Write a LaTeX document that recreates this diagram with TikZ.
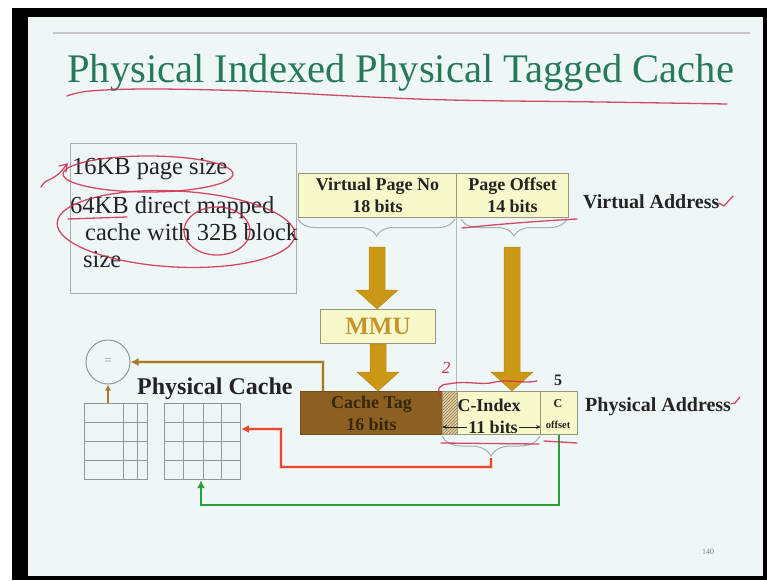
\documentclass[tikz,border=0pt]{standalone}
\usepackage{fontspec}
\setmainfont{Liberation Serif}
\usetikzlibrary{decorations.pathreplacing,patterns,calc,arrows.meta}

\definecolor{slidebg}{RGB}{238,246,248}
\definecolor{titlegreen}{RGB}{38,122,88}
\definecolor{boxfill}{RGB}{247,249,202}
\definecolor{boxline}{RGB}{150,152,120}
\definecolor{gold}{RGB}{203,152,22}
\definecolor{goldedge}{RGB}{185,138,20}
\definecolor{mmutext}{RGB}{198,148,45}
\definecolor{tagbrown}{RGB}{140,96,32}
\definecolor{tagtext}{RGB}{55,38,12}
\definecolor{redline}{RGB}{232,72,48}
\definecolor{redhalo}{RGB}{251,214,210}
\definecolor{greenline}{RGB}{45,160,60}
\definecolor{brownline}{RGB}{165,122,45}
\definecolor{brownhalo}{RGB}{236,222,186}
\definecolor{gridgray}{RGB}{150,150,150}
\definecolor{ink}{RGB}{205,45,75}
\definecolor{textdark}{RGB}{35,35,35}

\tikzset{
  fieldbox/.style={draw=boxline, line width=1pt, fill=boxfill, inner sep=0pt,
    anchor=north west, align=center},
  boldtext/.style={font=\bfseries\fontsize{18}{22}\selectfont, text=textdark, align=center},
  notetext/.style={font=\fontsize{24.5}{28}\selectfont, text=textdark, anchor=base west, inner sep=0pt},
  labeltext/.style={font=\bfseries\fontsize{20}{24}\selectfont, text=textdark, anchor=west, inner sep=0pt},
  graybrace/.style={draw=gray!65, line width=1pt, decorate,
    decoration={brace, mirror, amplitude=#1}},
  tablebox/.style={draw=gridgray, line width=1.1pt, inner sep=0pt, anchor=north west},
  gridline/.style={draw=gridgray, line width=1pt},
  redconn/.style={draw=redline, line width=2.6pt,
    preaction={draw=redhalo, line width=4.8pt},
    -{Latex[length=8pt,width=8pt]}},
  greenconn/.style={draw=greenline, line width=2.4pt, -{Latex[length=8pt,width=8pt]}},
  brownconn/.style={draw=brownline, line width=2.6pt,
    preaction={draw=brownhalo, line width=4.8pt},
    -{Latex[length=8pt,width=8pt]}},
  scribble/.style={draw=ink, line width=1.3pt, opacity=0.85, line cap=round, line join=round},
}

% thick downward block arrow from the first point to the level of the second
\newcommand\blockarrow[2]{%
  \filldraw[fill=gold, draw=goldedge, line width=0.5pt]
    let \p1=(#1), \p2=(#2) in
    (\x1-8pt,\y1) -- (\x1+8pt,\y1) -- (\x1+8pt,\y2+19pt) -- (\x1+21pt,\y2+19pt)
    -- (\x1,\y2) -- (\x1-21pt,\y2+19pt) -- (\x1-8pt,\y2+19pt) -- cycle;}

\begin{document}
\begin{tikzpicture}[x=1pt,y=-1pt]
\useasboundingbox (0,0) rectangle (767,580);
% frame and slide
\fill[white] (0,0) rectangle (767,580);
\fill[black] (12,8) rectangle (767,580);
\fill[slidebg] (28,17) rectangle (763,576);
\draw[gray!45, line width=1.6pt] (53,33) -- (750,33);

% title
\node[anchor=base west, inner sep=0pt, text=titlegreen,
      font=\fontsize{40.6}{41}\selectfont] (title) at (67,83)
  {Physical Indexed Physical Tagged Cache};

% notes box
\node[draw=gray!65, line width=1.2pt, minimum width=226pt, minimum height=150pt,
      anchor=north west, inner sep=0pt] (notes) at (70,143) {};
\node[notetext] (n1) at (72,175) {16KB page size};
\node[notetext] (n2) at (70,213) {64KB direct mapped};
\node[notetext] (n3) at (85,240) {cache with 32B block};
\node[notetext] (n4) at (83,267) {size};

% virtual address
\node[fieldbox, minimum width=158pt, minimum height=44pt] (vpn) at (298,173) {};
\node[boldtext] (vpnT) at (vpn.center) {Virtual Page No\\18 bits};
\node[fieldbox, minimum width=112pt, minimum height=44pt] (po) at (456,173) {};
\node[boldtext] (poT) at (po.center) {Page Offset\\14 bits};
\node[labeltext] (va) at (583,202) {Virtual Address};

\draw[graybrace=17pt] (298,219) -- (455,219);
\draw[graybrace=17pt] (461,219) -- (567,219);
\coordinate (vpnTip) at (377,247);
\coordinate (poTip) at (512,247);

% divider line between the two halves
\draw[gray!55, line width=1pt] (po.south west) -- (456,391);

% MMU
\node[fieldbox, minimum width=115pt, minimum height=34pt] (mmu) at (320,309) {};
\node[font=\bfseries\fontsize{25}{25}\selectfont, text=mmutext] (mmuT) at (mmu.center) {MMU};

% physical address
\node[draw=tagbrown!80!black, line width=1pt, fill=tagbrown, minimum width=142pt,
      minimum height=43pt, anchor=north west, inner sep=0pt] (tag) at (300,391) {};
\node[boldtext, text=tagtext] (tagT) at (tag.center) {Cache Tag\\16 bits};
\node[anchor=north west, minimum width=15pt, minimum height=43pt, inner sep=0pt,
      fill={rgb,255:red,224;green,208;blue,168}] (hatch) at (442,391) {};
\fill[pattern=north east lines, pattern color={rgb,255:red,150;green,120;blue,70}]
  (hatch.south west) rectangle (hatch.north east);
\draw[boxline, line width=1pt] (hatch.south west) rectangle (hatch.north east);
\node[fieldbox, minimum width=83pt, minimum height=43pt] (cidx) at (457,391) {};
\node[boldtext, inner sep=0pt] (cidxT) at (489,405) {C-Index};
\node[boldtext, inner sep=1pt] (bits) at (493,427) {11 bits};
\draw[-{Stealth[length=5pt,width=4pt]}, line width=0.9pt, textdark] (bits.west) -- (bits.west -| hatch.west);
\draw[-{Stealth[length=5pt,width=4pt]}, line width=0.9pt, textdark] (bits.east) -- (bits.east -| cidx.east);
\node[fieldbox, minimum width=37pt, minimum height=43pt] (coff) at (540,391) {};
\node[font=\bfseries\fontsize{12}{12}\selectfont, text=textdark] (coffC) at (558,404) {C};
\node[font=\bfseries\fontsize{10.5}{10.5}\selectfont, text=textdark, inner sep=0pt] (coffO) at (558,425) {offset};
\node[font=\bfseries\fontsize{16}{16}\selectfont, text=textdark] (five) at (558,380) {5};
\node[labeltext] (pa) at (585,407) {Physical Address};

\draw[graybrace=20pt] (442,436) -- (540,436);
\coordinate (ciTip) at (491,458);

% block arrows
\blockarrow{vpnTip}{mmu.north}
\blockarrow{mmu.south}{tag.north}
\blockarrow{poTip}{cidx.north}

% physical cache
\node[font=\bfseries\fontsize{24}{24}\selectfont, text=textdark, anchor=base west,
      inner sep=0pt] (pc) at (137,394) {Physical Cache};
\node[tablebox, minimum width=63pt, minimum height=76pt] (tabA) at (84,403) {};
\foreach \yy in {422,441,460} \draw[gridline] (84,\yy) -- (147,\yy);
\foreach \xx in {123,137} \draw[gridline] (\xx,403) -- (\xx,479);
\node[tablebox, minimum width=76pt, minimum height=76pt] (tabB) at (164,403) {};
\foreach \yy in {422,441,460} \draw[gridline] (164,\yy) -- (240,\yy);
\foreach \xx in {183,203,221} \draw[gridline] (\xx,403) -- (\xx,479);

% comparator
\node[draw=gridgray, line width=1pt, circle, minimum size=44pt, inner sep=0pt,
      font=\fontsize{13}{13}\selectfont, text=gridgray] (eq) at (108,362) {=};

% connectors
\draw[brownconn] ($(tag.north west)+(23,0)$) |- (eq.east);
\draw[draw=brownline, line width=2pt, -{Latex[length=6pt,width=6pt]}]
  (eq.south |- tabA.north) -- (eq.south);
\draw[redconn] (ciTip) -- (491,467) -| (281,429) -- ($(tabB.north east)+(0,26)$);
\draw[greenconn] (coff.south) -- ++(0,70) -| ($(tabB.south west)+(37,0)$);

% hand-written marks
\draw[scribble] plot[smooth, tension=0.6] coordinates
  {(67,96) (90,91) (150,89) (250,91) (350,96) (450,100) (600,102) (727,104)};
\draw[scribble] (148,174) ellipse [x radius=85pt, y radius=18pt];
\draw[scribble, rotate around={-3:(176,229)}] (176,229) ellipse [x radius=119pt, y radius=38pt];
\draw[scribble] (217,231) ellipse [x radius=33pt, y radius=24pt];
\draw[scribble] (68,219) -- (127,217);
\draw[scribble] (41,187) .. controls (47,176) and (53,184) .. (67,164);
\draw[scribble] (59,166) -- (67,164) -- (66,172);
\draw[scribble] (462,228) .. controls (500,224) and (540,221) .. (577,219);
\draw[scribble] (719,203) -- (724,206) -- (733,196);
\draw[scribble] (731,404) -- (735,403) -- (740,397);
\draw[scribble] (441,397) .. controls (435,390) and (440,384) .. (448,384)
  .. controls (470,380) and (480,386) .. (495,382)
  .. controls (510,379) and (525,384) .. (537,381);
\node[text=ink, font=\itshape\fontsize{17}{17}\selectfont, inner sep=0pt] (two) at (446,368) {2};
\draw[scribble] (441,443) -- (539,444);
\draw[scribble] (544,441) -- (577,443);

% page number
\node[text=gray, font=\fontsize{8}{8}\selectfont] (pnum) at (708,552) {140};
\end{tikzpicture}
\end{document}
